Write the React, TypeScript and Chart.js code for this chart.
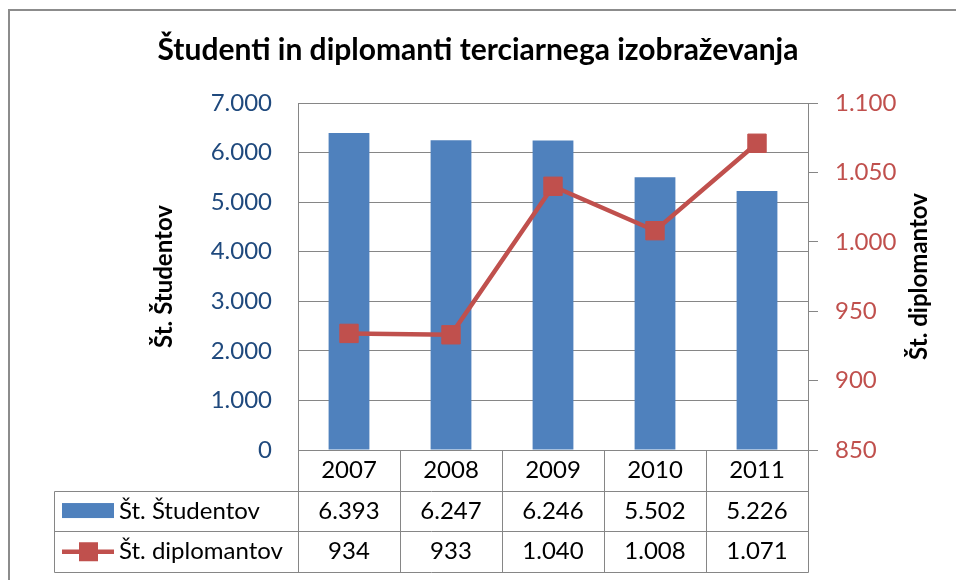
import React, { useEffect, useRef } from 'react';
import { Chart, registerables } from 'chart.js';

Chart.register(...registerables);

const titleText = 'Študenti in diplomanti terciarnega izobraževanja';
const years = ['2007', '2008', '2009', '2010', '2011'];
const students = [6393, 6247, 6246, 5502, 5226];
const graduates = [934, 933, 1040, 1008, 1071];
const studentsLabel = 'Št. Študentov';
const graduatesLabel = 'Št. diplomantov';
const leftAxisTitle = 'Št. Študentov';
const rightAxisTitle = 'Št. diplomantov';

const BLUE = '#4F81BD';
const RED = '#C0504D';
const AXIS_BLUE = '#1F497D';
const GRID = '#868686';
const FONT = 'Lato';

const fmt = (v: number) => String(v).replace(/\B(?=(\d{3})+(?!\d))/g, '.');

const tablePlugin = {
  id: 'excelTable',
  beforeDraw(chart: any) {
    const { ctx } = chart;
    ctx.save();
    ctx.strokeStyle = '#8C8C8C';
    ctx.lineWidth = 2;
    ctx.beginPath();
    ctx.moveTo(9, 2000);
    ctx.lineTo(9, 10);
    ctx.lineTo(2000, 10);
    ctx.stroke();
    ctx.restore();
  },
  afterDraw(chart: any) {
    const { ctx, chartArea, scales } = chart;
    const xs = scales.x;
    const n = years.length;
    const left = chartArea.left;
    const right = chartArea.right;
    const w = (right - left) / n;
    const rowH = 40.7;
    const y0 = chartArea.bottom;
    const y1 = y0 + rowH;
    const y2 = y1 + rowH;
    const y3 = y2 + rowH;
    const legendLeft = 54;

    ctx.save();
    ctx.strokeStyle = GRID;
    ctx.lineWidth = 1;
    const line = (ax: number, ay: number, bx: number, by: number) => {
      ctx.beginPath();
      ctx.moveTo(Math.round(ax) + 0.5, Math.round(ay) + 0.5);
      ctx.lineTo(Math.round(bx) + 0.5, Math.round(by) + 0.5);
      ctx.stroke();
    };
    line(left, y0, right, y0);
    line(legendLeft, y1, right, y1);
    line(legendLeft, y2, right, y2);
    line(legendLeft, y3, right, y3);
    line(legendLeft, y1, legendLeft, y3);
    for (let i = 0; i <= n; i++) {
      const xb = left + i * w;
      line(xb, y0, xb, y3);
    }

    ctx.fillStyle = '#000';
    ctx.font = `24px ${FONT}`;
    ctx.textAlign = 'center';
    ctx.textBaseline = 'middle';
    for (let i = 0; i < n; i++) {
      const cx = xs.getPixelForValue(i);
      ctx.fillText(years[i], cx, (y0 + y1) / 2);
      ctx.fillText(fmt(students[i]), cx, (y1 + y2) / 2);
      ctx.fillText(fmt(graduates[i]), cx, (y2 + y3) / 2);
    }

    // legend keys
    const r1 = (y1 + y2) / 2;
    const r2 = (y2 + y3) / 2;
    ctx.fillStyle = BLUE;
    ctx.fillRect(62, r1 - 8, 52, 15);
    ctx.strokeStyle = RED;
    ctx.lineWidth = 4.5;
    ctx.beginPath();
    ctx.moveTo(62, r2);
    ctx.lineTo(114, r2);
    ctx.stroke();
    ctx.fillStyle = RED;
    ctx.fillRect(79, r2 - 9.5, 19, 19);

    ctx.fillStyle = '#000';
    ctx.textAlign = 'left';
    ctx.fillText(studentsLabel, 119, r1);
    ctx.fillText(graduatesLabel, 119, r2);

    // axis titles
    ctx.font = `bold 24px ${FONT}`;
    ctx.textAlign = 'center';
    ctx.save();
    ctx.translate(164, (chartArea.top + chartArea.bottom) / 2);
    ctx.rotate(-Math.PI / 2);
    ctx.fillText(leftAxisTitle, 0, 0);
    ctx.restore();
    ctx.save();
    ctx.translate(919, (chartArea.top + chartArea.bottom) / 2);
    ctx.rotate(-Math.PI / 2);
    ctx.fillText(rightAxisTitle, 0, 0);
    ctx.restore();
    ctx.restore();
  },
};

export default function App() {
  const ref = useRef<HTMLCanvasElement>(null);
  useEffect(() => {
    if (!ref.current) return;
    const chart = new Chart(ref.current, {
      type: 'bar',
      data: {
        labels: years,
        datasets: [
          {
            type: 'line',
            label: graduatesLabel,
            data: graduates,
            yAxisID: 'y2',
            borderColor: RED,
            backgroundColor: RED,
            borderWidth: 4.5,
            pointStyle: 'rect',
            pointRadius: 13,
            pointBackgroundColor: RED,
            pointBorderColor: RED,
            pointBorderWidth: 1,
            tension: 0,
            order: 0,
          } as any,
          {
            type: 'bar',
            label: studentsLabel,
            data: students,
            yAxisID: 'y',
            backgroundColor: BLUE,
            barPercentage: 0.4,
            categoryPercentage: 1,
            order: 1,
          } as any,
        ],
      },
      options: {
        responsive: false,
        animation: false,
        layout: { padding: 0 },
        plugins: {
          legend: { display: false },
          tooltip: { enabled: false },
          title: {
            display: true,
            text: titleText,
            color: '#000',
            font: { family: FONT, size: 30, weight: 'bold' },
            padding: { top: 32, bottom: 35 },
          },
        },
        scales: {
          x: {
            display: true,
            grid: { display: false },
            border: { display: false },
            ticks: { display: false },
            afterFit: (s: any) => {
              s.height = 130;
            },
          },
          y: {
            position: 'left',
            min: 0,
            max: 7000,
            ticks: {
              stepSize: 1000,
              callback: (v: any) => fmt(Number(v)),
              color: AXIS_BLUE,
              font: { family: FONT, size: 24 },
              padding: 26,
            },
            grid: { color: GRID, lineWidth: 1, drawTicks: false },
            border: { display: true, color: GRID, width: 1 },
            afterFit: (s: any) => {
              s.width = 298;
            },
          },
          y2: {
            position: 'right',
            min: 850,
            max: 1100,
            ticks: {
              stepSize: 50,
              callback: (v: any) => fmt(Number(v)),
              color: RED,
              font: { family: FONT, size: 24 },
              padding: 17,
            },
            grid: { drawOnChartArea: false, color: GRID, tickLength: 10, drawTicks: true },
            border: { display: true, color: GRID, width: 1 },
            afterFit: (s: any) => {
              s.width = 148;
            },
          },
        },
      } as any,
      plugins: [tablePlugin],
    });
    return () => chart.destroy();
  }, []);
  return (
    <div style={{ position: 'fixed', left: 0, top: 0, width: 956, height: 580, background: '#fff' }}>
      <canvas ref={ref} width={956} height={580} />
    </div>
  );
}
